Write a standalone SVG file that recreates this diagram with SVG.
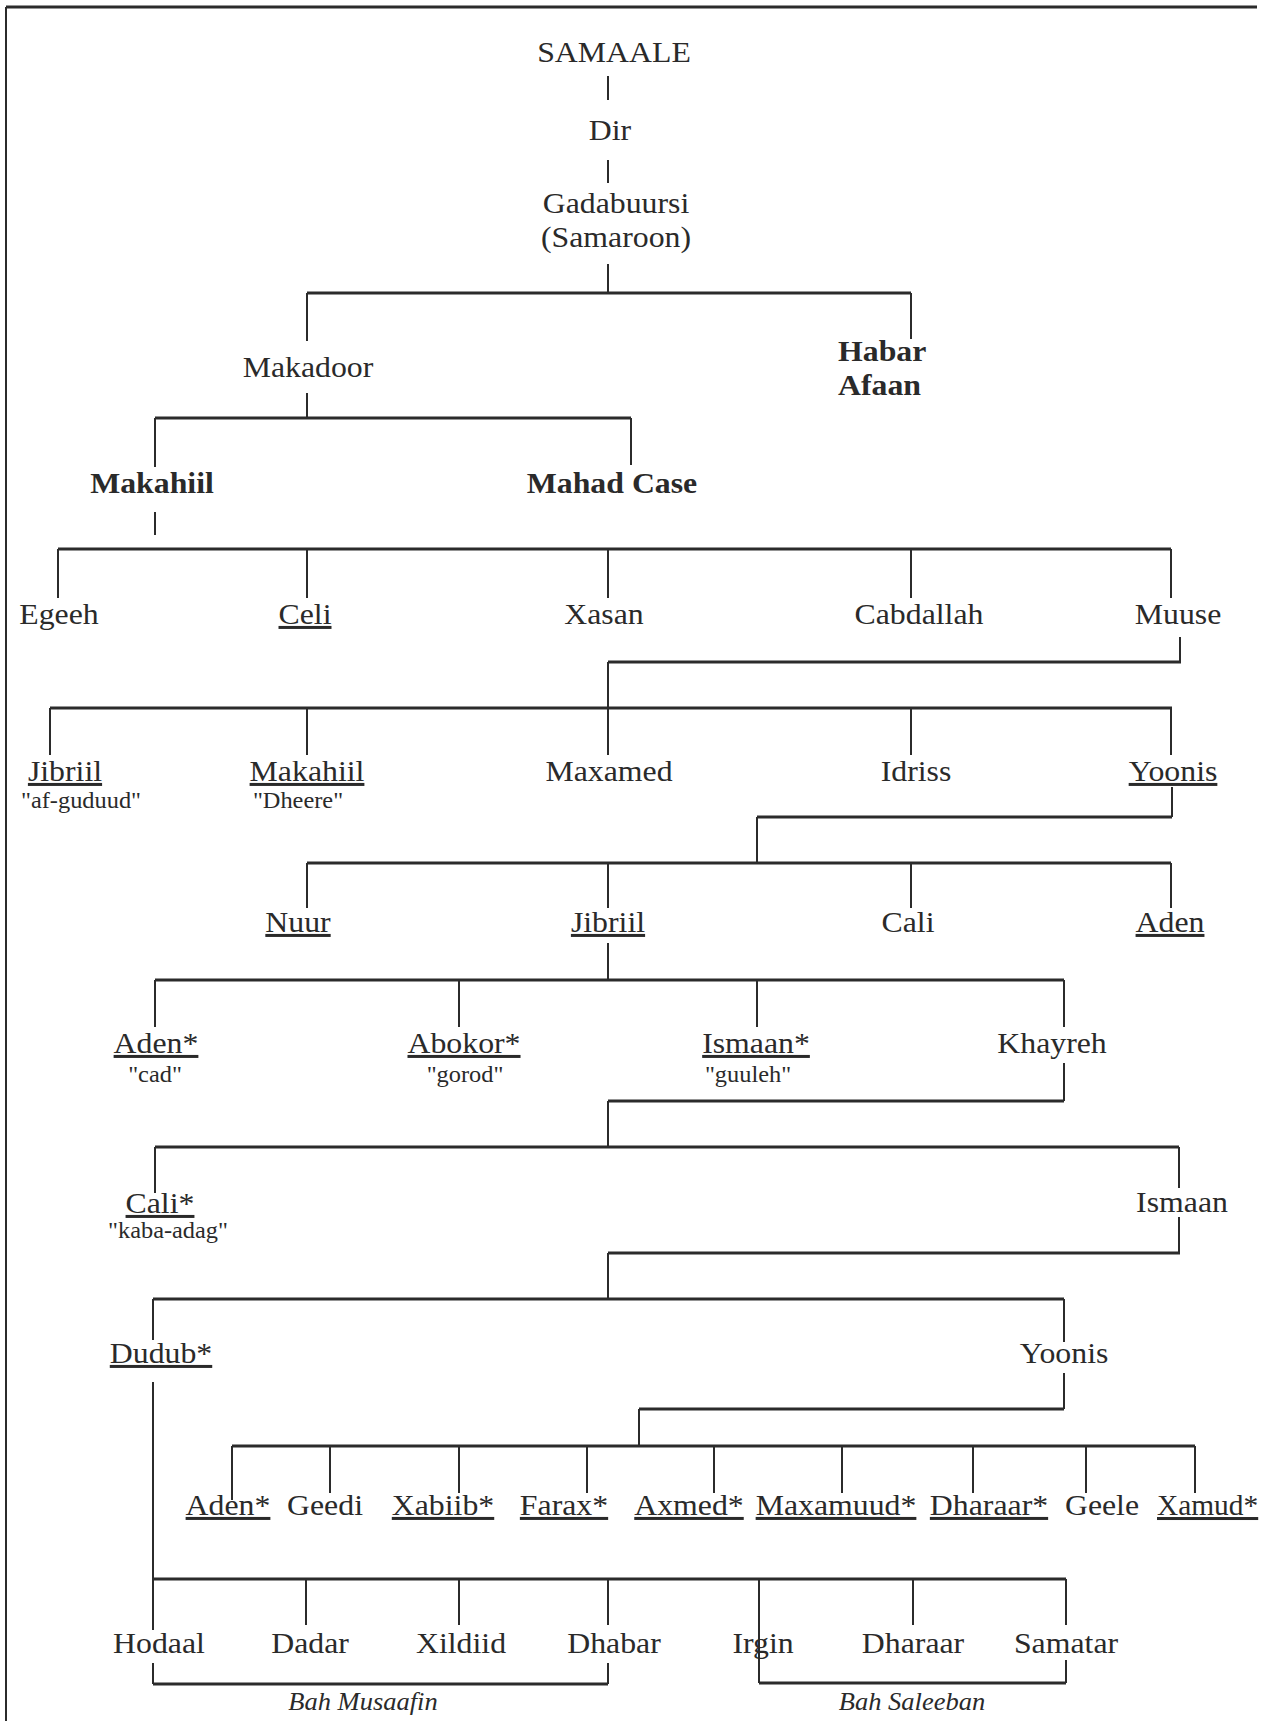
<svg xmlns="http://www.w3.org/2000/svg" width="1263" height="1721" viewBox="0 0 1263 1721">
<style>
.t{font-family:"Liberation Serif","Times New Roman",serif;font-size:30px;fill:#2a2a2a;text-anchor:middle}
.l{text-anchor:start}
.s{font-size:23px}
.b{font-weight:bold}
.i{font-style:italic;font-size:25px}
.u{text-decoration:underline}
.h{stroke:#2b2b2b;stroke-width:3;fill:none}
.v{stroke:#2b2b2b;stroke-width:2;fill:none}
</style>
<rect x="0" y="0" width="1263" height="1721" fill="#ffffff"/>
<g id="frame">
<line class="h" x1="6" y1="7" x2="1257" y2="7"/>
<line class="v" x1="6" y1="7" x2="6" y2="1721"/>
</g>
<g id="connectors">
<path class="v" d="M608 76V100M608 160V183M608 264V293"/>
<path class="h" d="M307 293H911"/>
<path class="v" d="M307 293V341M911 293V339M307 393V418"/>
<path class="h" d="M155 418H631"/>
<path class="v" d="M155 418V467M631 418V465M155 512V535"/>
<path class="h" d="M58 549H1171"/>
<path class="v" d="M58 549V598M307 549V598M608 549V598M911 549V598M1171 549V598"/>
<path class="v" d="M1180 637V662"/>
<path class="h" d="M608 662H1181"/>
<path class="v" d="M608 662V755"/>
<path class="h" d="M50 708H1172"/>
<path class="v" d="M50 708V755M307 708V755M911 708V755M1171 708V755"/>
<path class="v" d="M1172 787V817"/>
<path class="h" d="M757 817H1172"/>
<path class="v" d="M757 817V863"/>
<path class="h" d="M307 863H1171"/>
<path class="v" d="M307 863V908M608 863V908M911 863V908M1171 863V908"/>
<path class="v" d="M608 943V980"/>
<path class="h" d="M155 980H1064"/>
<path class="v" d="M155 980V1027M459 980V1027M757 980V1027M1064 980V1027"/>
<path class="v" d="M1064 1063V1101"/>
<path class="h" d="M608 1101H1064"/>
<path class="v" d="M608 1101V1147"/>
<path class="h" d="M155 1147H1179"/>
<path class="v" d="M155 1147V1193M1179 1147V1188"/>
<path class="v" d="M1179 1217V1253"/>
<path class="h" d="M608 1253H1180"/>
<path class="v" d="M608 1253V1299"/>
<path class="h" d="M153 1299H1064"/>
<path class="v" d="M153 1299V1340M1064 1299V1342"/>
<path class="v" d="M153 1382V1630"/>
<path class="v" d="M1064 1373V1409"/>
<path class="h" d="M639 1409H1064"/>
<path class="v" d="M639 1409V1446"/>
<path class="h" d="M232 1446H1195"/>
<path class="v" d="M232 1446V1500M330 1446V1493M459 1446V1493M587 1446V1493M714 1446V1493M842 1446V1493M973 1446V1493M1086 1446V1493M1195 1446V1493"/>
<path class="h" d="M153 1579H1066"/>
<path class="v" d="M306 1579V1625M459 1579V1625M608 1579V1625M913 1579V1625M1066 1579V1625M759 1579V1683"/>
<path class="v" d="M153 1663V1684M608 1663V1684M1066 1660V1683"/>
<path class="h" d="M153 1684H608M759 1683H1066"/>
</g>
<g id="n-samaale"><text class="t" transform="translate(614,62) scale(1.06,1)">SAMAALE</text></g>
<g id="n-dir"><text class="t" transform="translate(610,140) scale(1.06,1)">Dir</text></g>
<g id="n-gadabuursi"><text class="t" transform="translate(616,213) scale(1.06,1)">Gadabuursi</text><text class="t" transform="translate(616,247) scale(1.06,1)">(Samaroon)</text></g>
<g id="n-makadoor"><text class="t" transform="translate(308,377) scale(1.06,1)">Makadoor</text></g>
<g id="n-habar-afaan"><text class="t b l" transform="translate(838,361) scale(1.06,1)">Habar</text><text class="t b l" transform="translate(838,395) scale(1.06,1)">Afaan</text></g>
<g id="n-makahiil-1"><text class="t b" transform="translate(152,493) scale(1.06,1)">Makahiil</text></g>
<g id="n-mahad-case"><text class="t b" transform="translate(612,493) scale(1.06,1)">Mahad Case</text></g>
<g id="n-egeeh"><text class="t" transform="translate(59,624) scale(1.06,1)">Egeeh</text></g>
<g id="n-celi"><text class="t u" transform="translate(305,624) scale(1.06,1)">Celi</text></g>
<g id="n-xasan"><text class="t" transform="translate(604,624) scale(1.06,1)">Xasan</text></g>
<g id="n-cabdallah"><text class="t" transform="translate(919,624) scale(1.06,1)">Cabdallah</text></g>
<g id="n-muuse"><text class="t" transform="translate(1178,624) scale(1.06,1)">Muuse</text></g>
<g id="n-jibriil-1"><text class="t u" transform="translate(65,781) scale(1.06,1)">Jibriil</text><text class="t s" transform="translate(81,808) scale(1.06,1)">"af-guduud"</text></g>
<g id="n-makahiil-2"><text class="t u" transform="translate(307,781) scale(1.06,1)">Makahiil</text><text class="t s" transform="translate(298,808) scale(1.06,1)">"Dheere"</text></g>
<g id="n-maxamed"><text class="t" transform="translate(609,781) scale(1.06,1)">Maxamed</text></g>
<g id="n-idriss"><text class="t" transform="translate(916,781) scale(1.06,1)">Idriss</text></g>
<g id="n-yoonis-1"><text class="t u" transform="translate(1173,781) scale(1.06,1)">Yoonis</text></g>
<g id="n-nuur"><text class="t u" transform="translate(298,932) scale(1.06,1)">Nuur</text></g>
<g id="n-jibriil-2"><text class="t u" transform="translate(608,932) scale(1.06,1)">Jibriil</text></g>
<g id="n-cali-1"><text class="t" transform="translate(908,932) scale(1.06,1)">Cali</text></g>
<g id="n-aden-1"><text class="t u" transform="translate(1170,932) scale(1.06,1)">Aden</text></g>
<g id="n-aden-2"><text class="t u" transform="translate(156,1053) scale(1.06,1)">Aden*</text><text class="t s" transform="translate(155,1082) scale(1.06,1)">"cad"</text></g>
<g id="n-abokor"><text class="t u" transform="translate(464,1053) scale(1.06,1)">Abokor*</text><text class="t s" transform="translate(465,1082) scale(1.06,1)">"gorod"</text></g>
<g id="n-ismaan-1"><text class="t u" transform="translate(756,1053) scale(1.06,1)">Ismaan*</text><text class="t s" transform="translate(748,1082) scale(1.06,1)">"guuleh"</text></g>
<g id="n-khayreh"><text class="t" transform="translate(1052,1053) scale(1.06,1)">Khayreh</text></g>
<g id="n-cali-2"><text class="t u" transform="translate(160,1213) scale(1.06,1)">Cali*</text><text class="t s" transform="translate(168,1238) scale(1.06,1)">"kaba-adag"</text></g>
<g id="n-ismaan-2"><text class="t" transform="translate(1182,1212) scale(1.06,1)">Ismaan</text></g>
<g id="n-dudub"><text class="t u" transform="translate(161,1363) scale(1.06,1)">Dudub*</text></g>
<g id="n-yoonis-2"><text class="t" transform="translate(1064,1363) scale(1.06,1)">Yoonis</text></g>
<g id="n-aden-3"><text class="t u" transform="translate(228,1515) scale(1.06,1)">Aden*</text></g>
<g id="n-geedi"><text class="t" transform="translate(325,1515) scale(1.06,1)">Geedi</text></g>
<g id="n-xabiib"><text class="t u" transform="translate(443,1515) scale(1.06,1)">Xabiib*</text></g>
<g id="n-farax"><text class="t u" transform="translate(564,1515) scale(1.06,1)">Farax*</text></g>
<g id="n-axmed"><text class="t u" transform="translate(689,1515) scale(1.06,1)">Axmed*</text></g>
<g id="n-maxamuud"><text class="t u" transform="translate(836,1515) scale(1.06,1)">Maxamuud*</text></g>
<g id="n-dharaar-1"><text class="t u" transform="translate(989,1515) scale(1.06,1)">Dharaar*</text></g>
<g id="n-geele"><text class="t" transform="translate(1102,1515) scale(1.06,1)">Geele</text></g>
<g id="n-xamud"><text class="t u l" transform="translate(1157,1515) scale(0.98,1)">Xamud*</text></g>
<g id="n-hodaal"><text class="t" transform="translate(159,1653) scale(1.06,1)">Hodaal</text></g>
<g id="n-dadar"><text class="t" transform="translate(310,1653) scale(1.06,1)">Dadar</text></g>
<g id="n-xildiid"><text class="t" transform="translate(461,1653) scale(1.06,1)">Xildiid</text></g>
<g id="n-dhabar"><text class="t" transform="translate(614,1653) scale(1.06,1)">Dhabar</text></g>
<g id="n-irgin"><text class="t" transform="translate(763,1653) scale(1.06,1)">Irgin</text></g>
<g id="n-dharaar-2"><text class="t" transform="translate(913,1653) scale(1.06,1)">Dharaar</text></g>
<g id="n-samatar"><text class="t" transform="translate(1066,1653) scale(1.06,1)">Samatar</text></g>
<g id="n-bah-musaafin"><text class="t i" transform="translate(363,1710) scale(1.06,1)">Bah Musaafin</text></g>
<g id="n-bah-saleeban"><text class="t i" transform="translate(912,1710) scale(1.06,1)">Bah Saleeban</text></g>
</svg>
